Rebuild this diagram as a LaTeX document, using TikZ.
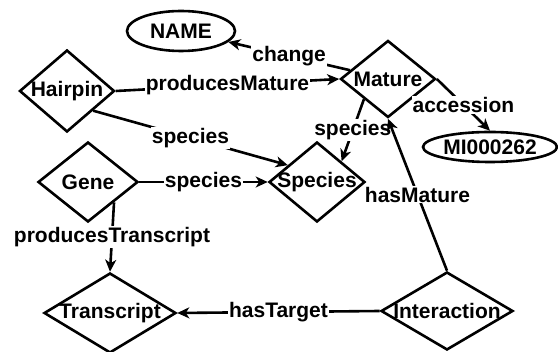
\documentclass[tikz,border=0pt]{standalone}
\usepackage{fontspec}
\setmainfont{Liberation Sans}
\usetikzlibrary{shapes.geometric,arrows.meta}

\begin{document}
\begin{tikzpicture}[x=1pt,y=-1pt,
    every node/.style={font=\fontsize{21}{24}\selectfont\bfseries},
    ent/.style={diamond,draw,line width=2.6pt,inner sep=0pt},
    lit/.style={ellipse,draw,line width=2.6pt,inner sep=0pt},
    rel/.style={line width=2.6pt,-{Stealth[length=12pt,width=11pt,inset=3.5pt]}},
    lbl/.style={fill=white,inner sep=1pt}]
      \useasboundingbox (0,0) rectangle (558,352);

      \node[lit,minimum width=108pt,minimum height=40pt] (name) at (181,31) {NAME};
      \node[lit,minimum width=134pt,minimum height=30pt] (mi) at (490,147) {MI000262};

      \node[ent,minimum width=95pt,minimum height=82pt,label=center:Hairpin] (hairpin) at (67,91) {};
      \node[ent,minimum width=95pt,minimum height=77pt,label=center:Mature] (mature) at (388,79) {};
      \node[ent,minimum width=96pt,minimum height=80pt,label=center:Species] (species) at (317,182) {};
      \node[ent,minimum width=100pt,minimum height=80pt,label=center:Gene] (gene) at (88,182) {};
      \node[ent,minimum width=132pt,minimum height=80pt,label=center:Transcript] (transcript) at (110,313) {};
      \node[ent,minimum width=132pt,minimum height=78pt,label=center:Interaction] (interaction) at (447,311) {};

      \draw[rel] (mature.167) -- node[lbl] {change} (name);
      \draw[rel] (hairpin.east) -- node[lbl] {producesMature} (mature.west);
      \draw[rel] (hairpin.-37) -- node[lbl] {species} (species.150);
      \draw[rel] (mature.220) -- node[lbl] {species} (species.40);
      \draw[rel] (mature.east) -- node[lbl] {accession} (mi.north);
      \draw[rel] (gene.east) -- node[lbl] {species} (species.west);
      \draw[rel] (gene.-38) -- node[lbl] {producesTranscript} (transcript.north);
      \draw[rel] (interaction.north) -- node[lbl] {hasMature} (mature.south);
      \draw[rel] (interaction.west) -- node[lbl] {hasTarget} (transcript.east);
    \end{tikzpicture}
\end{document}
